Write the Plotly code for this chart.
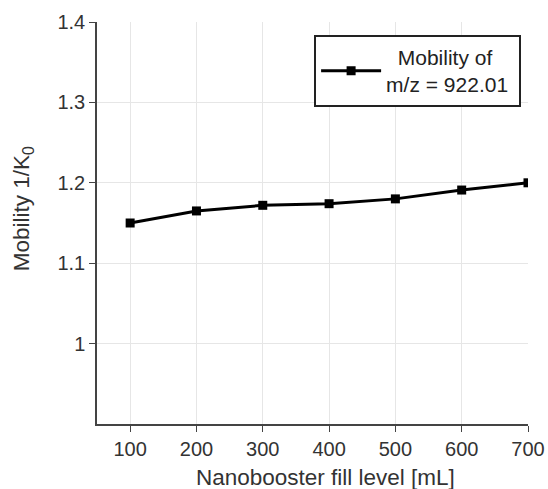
import plotly.graph_objects as go

fill_level = [100, 200, 300, 400, 500, 600, 700]
mobility = [1.150, 1.165, 1.172, 1.174, 1.180, 1.191, 1.200]
x_ticks = [100, 200, 300, 400, 500, 600, 700]
y_ticks = [1.0, 1.1, 1.2, 1.3, 1.4]
y_tick_labels = ["1", "1.1", "1.2", "1.3", "1.4"]
series_name = "&nbsp;&nbsp;Mobility of<br>m/z = 922.01&nbsp;"
x_title = "Nanobooster fill level [mL]"
y_title = "Mobility 1/K<sub>0</sub>"

FONT = "Liberation Sans, Arial, sans-serif"
TXT = "#333333"

fig = go.Figure()
fig.add_trace(go.Scatter(
    x=fill_level, y=mobility, mode="lines+markers",
    name=series_name,
    line=dict(color="black", width=3),
    marker=dict(symbol="square", size=9, color="black"),
))

tick_font = dict(family=FONT, size=20, color=TXT)
fig.update_layout(
    width=548, height=489,
    margin=dict(l=97, r=20, t=22, b=65),
    paper_bgcolor="white", plot_bgcolor="white",
    font=dict(family=FONT, size=20, color=TXT),
    showlegend=True,
    legend=dict(
        x=0.984, y=0.968, xanchor="right", yanchor="top",
        bordercolor="#222222", borderwidth=2, bgcolor="white",
        font=dict(family=FONT, size=21, color="#222222"),
        itemwidth=60,
    ),
    xaxis=dict(
        range=[50, 700], tickvals=x_ticks, ticks="outside", ticklen=6,
        tickcolor="#444444", showline=True, linecolor="#444444", linewidth=1.5,
        showgrid=True, gridcolor="#e6e6e6", zeroline=False, automargin=False,
        tickfont=tick_font,
    ),
    yaxis=dict(
        range=[0.9, 1.4], tickvals=y_ticks, ticktext=y_tick_labels, ticks="outside",
        ticklen=6, tickcolor="#444444", showline=True, linecolor="#444444", linewidth=1.5,
        showgrid=True, gridcolor="#e6e6e6", zeroline=False, automargin=False,
        tickfont=tick_font,
    ),
    annotations=[
        dict(text=x_title, xref="paper", yref="paper", x=0.531, y=-0.134,
             xanchor="center", yanchor="middle", showarrow=False,
             font=dict(family=FONT, size=22.5, color=TXT)),
        dict(text=y_title, xref="paper", yref="paper", x=-0.171, y=0.535,
             xanchor="center", yanchor="middle", showarrow=False, textangle=-90,
             font=dict(family=FONT, size=22.5, color=TXT)),
    ],
)
fig.write_html("out.html", config={"displayModeBar": False},
               post_script="document.body.style.margin='0';")
